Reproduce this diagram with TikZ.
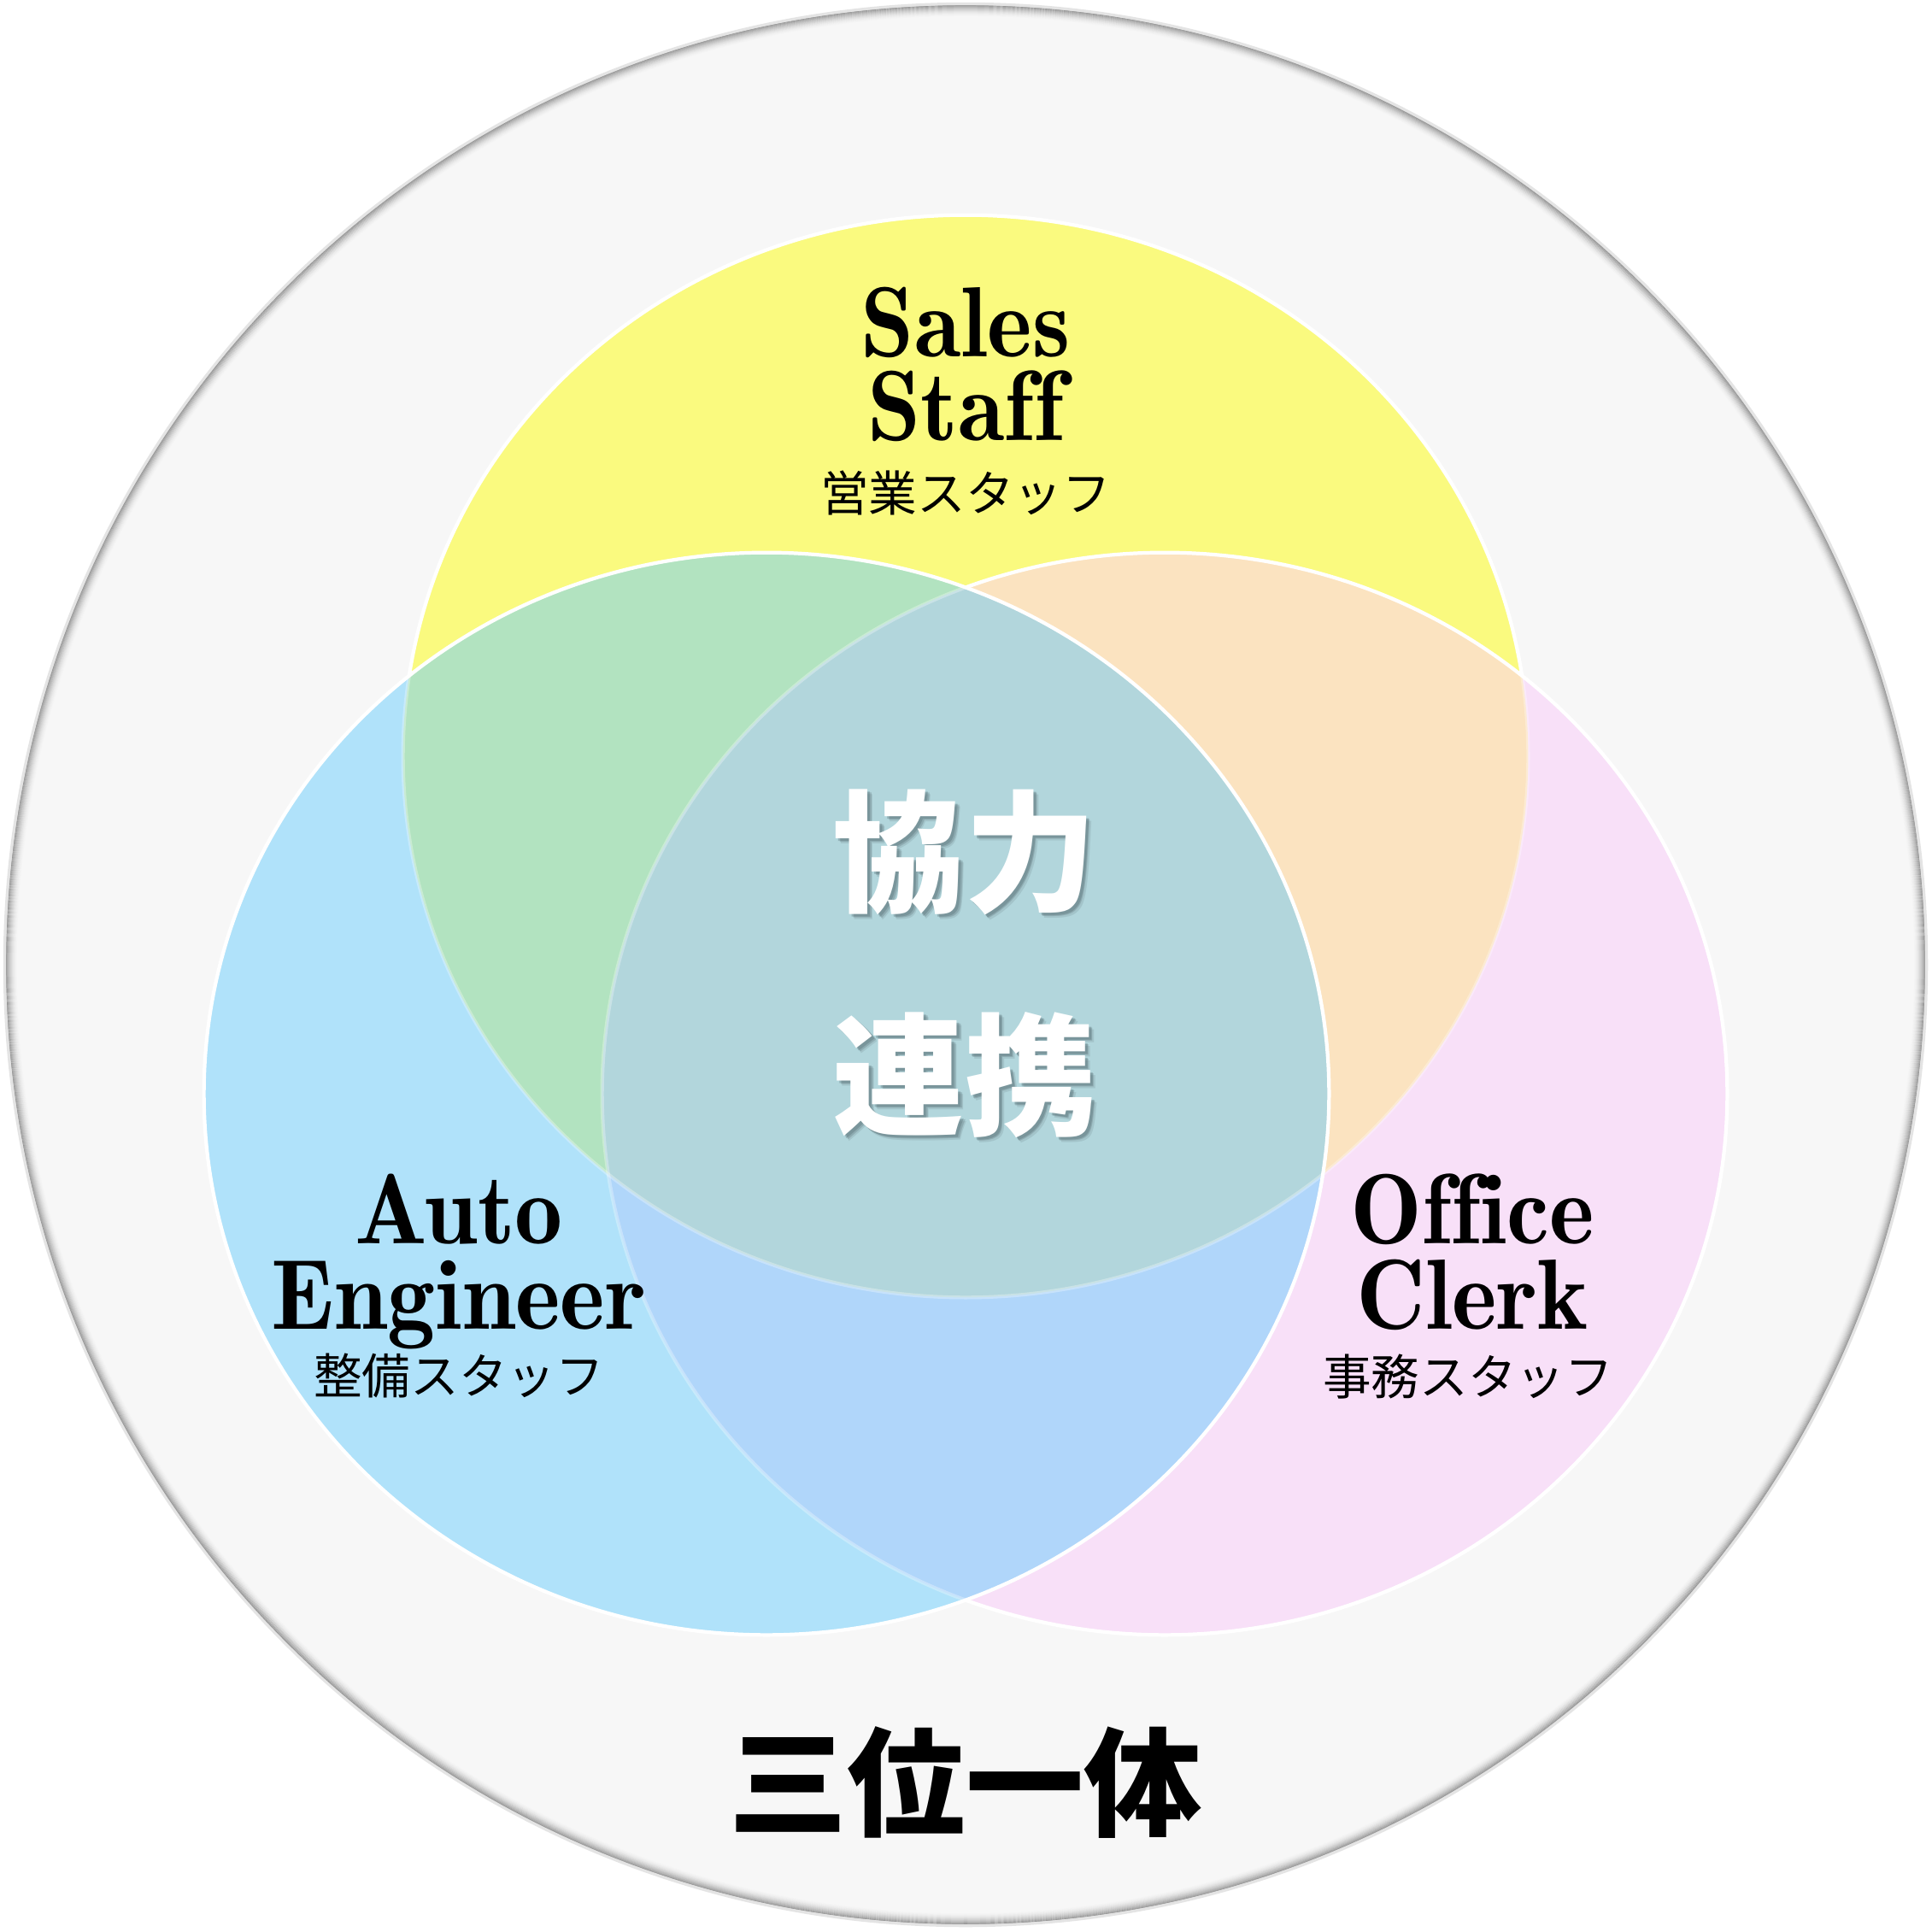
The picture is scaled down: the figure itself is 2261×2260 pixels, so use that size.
\documentclass[tikz,border=0pt]{standalone}
\usepackage{fontspec}
\newfontfamily\enfont{lmromandemi10-regular}[Extension=.otf, FakeStretch=0.96, Ligatures=NoCommon]
\newfontfamily\jpfont{Noto Sans CJK JP}
\definecolor{bgg}{HTML}{F7F7F7}
\definecolor{ring}{HTML}{E4E4E4}
\definecolor{cY}{HTML}{FAFA7F}
\definecolor{cB}{HTML}{B0E2FA}
\definecolor{cP}{HTML}{F8E0F8}
\definecolor{cYB}{HTML}{B2E3C0}
\definecolor{cYP}{HTML}{FBE3C0}
\definecolor{cBP}{HTML}{B0D6FA}
\definecolor{cC}{HTML}{B2D6DC}
\definecolor{shd}{HTML}{4E6369}
\def\Ypath{(1130,885) ellipse [x radius=6.58cm, y radius=6.33cm]}
\def\Bpath{(897,1280) ellipse [x radius=6.58cm, y radius=6.33cm]}
\def\Ppath{(1363,1280) ellipse [x radius=6.58cm, y radius=6.33cm]}
\tikzset{
  en/.style={font=\enfont\fontsize{33.2pt}{33.2pt}\selectfont, inner sep=0pt, anchor=base, text depth=0pt, text height=0.7em},
  jp/.style={font=\jpfont\fontsize{16.1pt}{16.1pt}\selectfont, inner sep=0pt},
  big/.style={font=\jpfont\bfseries\fontsize{43.8pt}{43.8pt}\selectfont, inner sep=0pt, text=white},
  bigshd/.style={font=\jpfont\bfseries\fontsize{43.8pt}{43.8pt}\selectfont, inner sep=0pt, text=shd},
  title/.style={font=\jpfont\bfseries\fontsize{39.3pt}{39.3pt}\selectfont, inner sep=0pt},
  edge/.style={draw=white, line width=1.2pt},
  faint/.style={draw=white, draw opacity=0.3, line width=1.2pt}
}
\begin{document}
\begin{tikzpicture}[x=0.01cm,y=-0.01cm]
\useasboundingbox (0,0) rectangle (2261,2260);
\fill[white] (0,0) rectangle (2261,2260);
% outer circle
\fill[bgg] (1130,1129) circle[radius=11.24cm];
\begin{scope}
\clip (1130,1129) circle[radius=11.24cm];
\foreach \i in {0,...,13}{
  \pgfmathsetmacro\op{0.32*(1-\i/14)*(1-\i/14)}
  \pgfmathsetlengthmacro\rr{11.22cm-\i*0.01cm}
  \draw[black, draw opacity=\op, line width=0.32pt] (1130,1129) circle[radius=\rr];
}
\end{scope}
\draw[ring, line width=0.9pt] (1130,1129) circle[radius=11.24cm];
% yellow
\fill[cY] \Ypath;
\draw[edge] \Ypath;
% pink
\fill[cP] \Ppath;
\begin{scope}\clip \Ypath; \fill[cYP] \Ppath; \end{scope}
\begin{scope}\clip \Ppath; \draw[faint] \Ypath; \end{scope}
\draw[edge] \Ppath;
% blue
\fill[cB] \Bpath;
\begin{scope}\clip \Ypath; \fill[cYB] \Bpath; \end{scope}
\begin{scope}\clip \Ppath; \fill[cBP] \Bpath; \end{scope}
\begin{scope}\clip \Ypath; \clip \Ppath; \fill[cC] \Bpath; \end{scope}
\begin{scope}\clip \Bpath; \draw[faint] \Ypath; \draw[faint] \Ppath; \end{scope}
\draw[edge] \Bpath;
% labels
\node[en] (sales) at (1130,417) {Sales};
\node[en] (staff) at (1130,515) {Staff};
\node[jp] (salesjp) at (1130,577) {営業スタッフ};
\node[en] (auto) at (537,1455) {Auto};
\node[en] (engineer) at (537,1555) {Engineer};
\node[jp] (autojp) at (537,1610) {整備スタッフ};
\node[en] (office) at (1723,1455) {Office};
\node[en] (clerk) at (1723,1555) {Clerk};
\node[jp] (officejp) at (1718,1611) {事務スタッフ};
% center with shadow
\foreach \d/\o in {6/0.15,4.5/0.25,3/0.3}{
  \node[bigshd, opacity=\o] at (1129+\d,997+\d) {協力};
  \node[bigshd, opacity=\o] at (1129+\d,1258+\d) {連携};
}
\node[big] (kyoryoku) at (1129,997) {協力};
\node[big] (renkei) at (1129,1258) {連携};
\node[title] (sanmi) at (1130,2086) {三位一体};
\end{tikzpicture}
\end{document}
